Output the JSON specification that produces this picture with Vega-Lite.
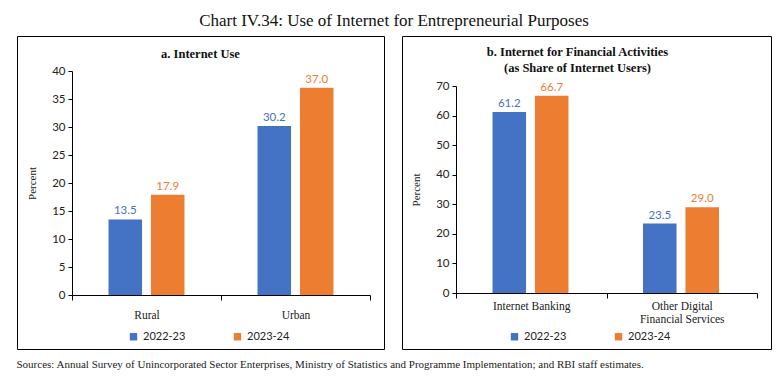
{
  "$schema": "https://vega.github.io/schema/vega-lite/v6.json",
  "background": "white",
  "padding": {"left": 16, "top": 11, "right": 0, "bottom": 0},
  "title": {
    "text": "Chart IV.34: Use of Internet for Entrepreneurial Purposes",
    "font": "Liberation Serif",
    "fontSize": 17,
    "fontWeight": "normal",
    "color": "#111111",
    "anchor": "middle",
    "offset": 6
  },
  "datasets": {
    "internetUse": [
      {"category": "Rural", "year": "2022-23", "value": 13.5},
      {"category": "Rural", "year": "2023-24", "value": 17.9},
      {"category": "Urban", "year": "2022-23", "value": 30.2},
      {"category": "Urban", "year": "2023-24", "value": 37.0}
    ],
    "financial": [
      {"category": "Internet Banking", "year": "2022-23", "value": 61.2},
      {"category": "Internet Banking", "year": "2023-24", "value": 66.7},
      {"category": "Other Digital Financial Services", "year": "2022-23", "value": 23.5},
      {"category": "Other Digital Financial Services", "year": "2023-24", "value": 29.0}
    ]
  },
  "vconcat": [
    {
      "title": {
        "text": "Sources: Annual Survey of Unincorporated Sector Enterprises, Ministry of Statistics and Programme Implementation; and RBI staff estimates.",
        "orient": "bottom",
        "anchor": "start",
        "font": "Liberation Serif",
        "fontSize": 11,
        "fontWeight": "normal",
        "color": "#222222",
        "offset": 9
      },
      "spacing": 16,
      "resolve": {"scale": {"color": "independent"}, "legend": {"color": "independent"}},
      "hconcat": [
        {
          "width": 367,
          "height": 313,
          "data": {"name": "internetUse"},
          "title": {
            "text": "a. Internet Use",
            "offset": -24,
            "font": "Liberation Serif",
            "fontSize": 12.5,
            "fontWeight": "bold",
            "color": "#111111",
            "anchor": "middle"
          },
          "encoding": {
            "x": {
              "field": "category",
              "type": "nominal",
              "sort": null,
              "scale": {"range": [55, 353], "paddingInner": 0, "paddingOuter": 0},
              "axis": {
                "title": null,
                "orient": "bottom",
                "offset": -54,
                "labelAngle": 0,
                "tickBand": "extent",
                "tickSize": 5,
                "labelPadding": 9,
                "domainColor": "#000000",
                "tickColor": "#000000",
                "labelFont": "Liberation Serif",
                "labelFontSize": 11.5,
                "labelColor": "#222222"
              }
            },
            "xOffset": {"field": "year", "type": "nominal", "scale": {"paddingInner": 0.21, "paddingOuter": 0.86}},
            "y": {
              "field": "value",
              "type": "quantitative",
              "scale": {"domain": [0, 40], "range": [259, 35], "nice": false, "zero": true},
              "axis": {
                "title": "Percent",
                "offset": -55,
                "values": [0, 5, 10, 15, 20, 25, 30, 35, 40],
                "grid": false,
                "tickSize": 4,
                "labelPadding": 3,
                "titlePadding": 14,
                "domainColor": "#000000",
                "tickColor": "#000000",
                "labelFont": "Lato",
                "labelFontSize": 11.5,
                "labelColor": "#222222",
                "titleFont": "Liberation Serif",
                "titleFontSize": 11,
                "titleFontWeight": "normal",
                "titleColor": "#222222"
              }
            },
            "color": {
              "field": "year",
              "type": "nominal",
              "scale": {"domain": ["2022-23", "2023-24"], "range": ["#4472C4", "#ED7D31"]},
              "legend": {
                "title": null,
                "orient": "none",
                "legendX": 111,
                "legendY": 295,
                "direction": "horizontal",
                "symbolType": "square",
                "symbolSize": 55,
                "symbolStrokeWidth": 0,
                "columnPadding": 46,
                "labelFont": "Lato",
                "labelFontSize": 11,
                "labelColor": "#222222",
                "labelOffset": 4
              }
            }
          },
          "layer": [
            {"mark": {"type": "bar"}},
            {
              "mark": {"type": "text", "dy": -8, "font": "Lato", "fontSize": 11.5},
              "encoding": {"text": {"field": "value", "type": "quantitative", "format": ".1f"}}
            }
          ]
        },
        {
          "width": 369,
          "height": 313,
          "data": {"name": "financial"},
          "title": {
            "text": ["b. Internet for Financial Activities", "(as Share of Internet Users)"],
            "offset": -38,
            "dx": -9,
            "lineHeight": 16,
            "font": "Liberation Serif",
            "fontSize": 12.5,
            "fontWeight": "bold",
            "color": "#111111",
            "anchor": "middle"
          },
          "encoding": {
            "x": {
              "field": "category",
              "type": "nominal",
              "sort": null,
              "scale": {"range": [54, 355], "paddingInner": 0, "paddingOuter": 0},
              "axis": {
                "title": null,
                "orient": "bottom",
                "offset": -56,
                "labelAngle": 0,
                "tickBand": "extent",
                "tickSize": 5,
                "labelPadding": 2,
                "labelExpr": "datum.value == 'Other Digital Financial Services' ? ['Other Digital', 'Financial Services'] : datum.value",
                "labelLineHeight": 13,
                "domainColor": "#000000",
                "tickColor": "#000000",
                "labelFont": "Liberation Serif",
                "labelFontSize": 11.5,
                "labelColor": "#222222"
              }
            },
            "xOffset": {"field": "year", "type": "nominal", "scale": {"paddingInner": 0.21, "paddingOuter": 0.86}},
            "y": {
              "field": "value",
              "type": "quantitative",
              "scale": {"domain": [0, 70], "range": [257, 50], "nice": false, "zero": true},
              "axis": {
                "title": "Percent",
                "offset": -54,
                "values": [0, 10, 20, 30, 40, 50, 60, 70],
                "grid": false,
                "tickSize": 4,
                "labelPadding": 3,
                "titlePadding": 14,
                "domainColor": "#000000",
                "tickColor": "#000000",
                "labelFont": "Lato",
                "labelFontSize": 11.5,
                "labelColor": "#222222",
                "titleFont": "Liberation Serif",
                "titleFontSize": 11,
                "titleFontWeight": "normal",
                "titleColor": "#222222"
              }
            },
            "color": {
              "field": "year",
              "type": "nominal",
              "scale": {"domain": ["2022-23", "2023-24"], "range": ["#4472C4", "#ED7D31"]},
              "legend": {
                "title": null,
                "orient": "none",
                "legendX": 107,
                "legendY": 295,
                "direction": "horizontal",
                "symbolType": "square",
                "symbolSize": 55,
                "symbolStrokeWidth": 0,
                "columnPadding": 46,
                "labelFont": "Lato",
                "labelFontSize": 11,
                "labelColor": "#222222",
                "labelOffset": 4
              }
            }
          },
          "layer": [
            {"mark": {"type": "bar"}},
            {
              "mark": {"type": "text", "dy": -8, "font": "Lato", "fontSize": 11.5},
              "encoding": {"text": {"field": "value", "type": "quantitative", "format": ".1f"}}
            }
          ]
        }
      ]
    }
  ],
  "config": {
    "view": {"stroke": "#000000", "strokeWidth": 1},
    "axis": {"domainWidth": 1, "tickWidth": 1}
  }
}
